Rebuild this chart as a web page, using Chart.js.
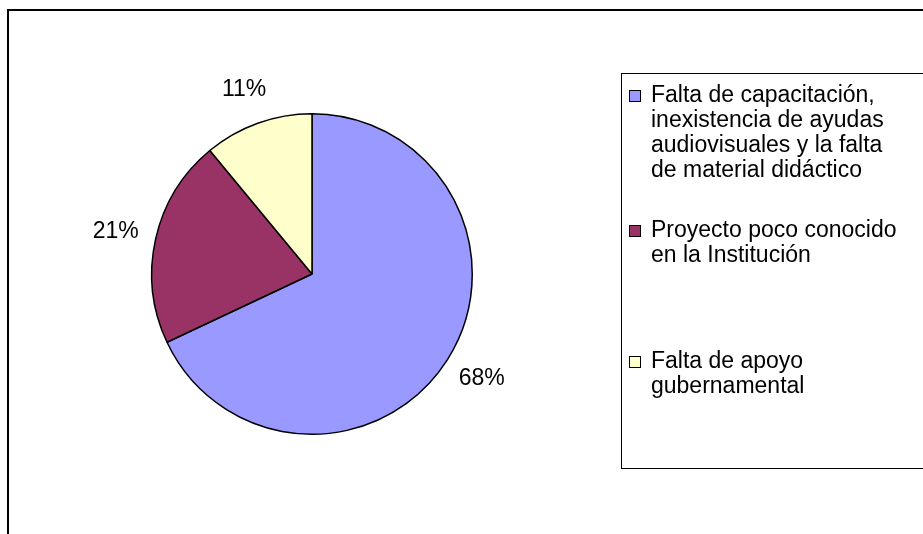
<!DOCTYPE html>
<html lang="es">

<head>
    <meta charset="UTF-8">
    <title>Pie</title>
    <script src="https://cdn.jsdelivr.net/npm/chart.js"></script>
    <style>
        body { margin: 0; background: #fff; }
    </style>
</head>

<body>
    <canvas id="pieChart" width="923" height="534"></canvas>

    <script>
        // legend labels, one string per line as in the picture
        const categories = [
            ["Falta de capacitación,", "inexistencia de ayudas", "audiovisuales y la falta", "de material didáctico"],
            ["Proyecto poco conocido", "en la Institución"],
            ["Falta de apoyo", "gubernamental"]
        ];
        const percentages = [68, 21, 11];
        const sliceColors = ['#9999FF', '#993366', '#FFFFCC'];

        const FONT = '23px "Liberation Sans", Arial, sans-serif';

        // frame, legend box and the % labels, drawn by hand like Excel does
        const excelLook = {
            id: 'excelLook',
            beforeDraw(chart) {
                const ctx = chart.ctx;
                ctx.save();
                ctx.fillStyle = '#fff';
                ctx.fillRect(0, 0, chart.width, chart.height);
                // outer chart frame (right and bottom sides are cut off)
                ctx.strokeStyle = '#000';
                ctx.lineWidth = 2;
                ctx.strokeRect(8, 10, 1000, 600);
                ctx.restore();
            },
            afterDraw(chart) {
                const ctx = chart.ctx;
                const meta = chart.getDatasetMeta(0);
                ctx.save();
                ctx.font = FONT;
                ctx.fillStyle = '#000';
                ctx.textAlign = 'center';
                ctx.textBaseline = 'middle';
                const offset = 27;
                meta.data.forEach((arc, i) => {
                    const p = arc.getProps(['x', 'y', 'startAngle', 'endAngle', 'outerRadius'], true);
                    const mid = (p.startAngle + p.endAngle) / 2;
                    const ux = Math.cos(mid), uy = Math.sin(mid);
                    const txt = percentages[i] + '%';
                    const hw = ctx.measureText(txt).width * 0.3;
                    const hh = 9;
                    const x = p.x + (p.outerRadius + offset) * ux + hw * ux;
                    const y = p.y + (p.outerRadius + offset) * uy + hh * uy;
                    ctx.fillText(txt, x, y);
                });

                // legend box
                ctx.strokeStyle = '#000';
                ctx.lineWidth = 1;
                ctx.strokeRect(621.5, 73.5, 400, 395);
                const itemTop = [96, 231, 362];
                const lineGap = 25;
                ctx.textAlign = 'left';
                categories.forEach((lines, i) => {
                    ctx.fillStyle = sliceColors[i];
                    ctx.fillRect(629.5, itemTop[i] - 5.5, 11, 11);
                    ctx.strokeRect(629.5, itemTop[i] - 5.5, 11, 11);
                    ctx.fillStyle = '#000';
                    lines.forEach((line, j) => {
                        ctx.fillText(line, 651, itemTop[i] + j * lineGap);
                    });
                });
                ctx.restore();
            }
        };

        const ctx = document.getElementById('pieChart').getContext('2d');
        new Chart(ctx, {
            type: 'pie',
            data: {
                labels: categories,
                datasets: [{
                    data: percentages,
                    backgroundColor: sliceColors,
                    borderColor: '#000',
                    borderWidth: 1.5
                }]
            },
            options: {
                responsive: false,
                animation: false,
                layout: {
                    padding: { left: 151, right: 450, top: 113, bottom: 99 }
                },
                plugins: {
                    legend: { display: false },
                    tooltip: { enabled: false }
                }
            },
            plugins: [excelLook]
        });
    </script>
</body>

</html>
